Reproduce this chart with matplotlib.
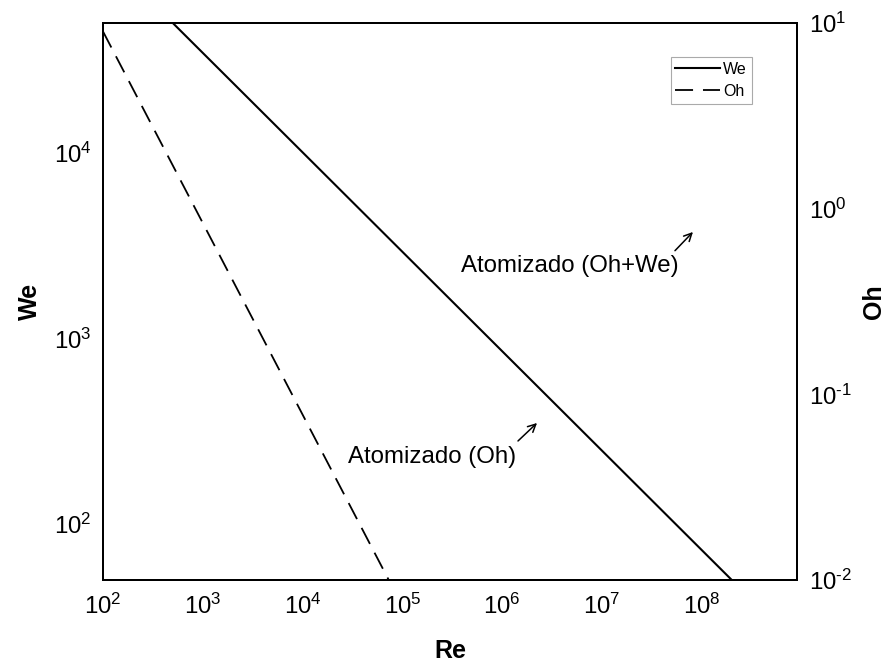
import numpy as np
import matplotlib
matplotlib.use("Agg")
import matplotlib.pyplot as plt
from matplotlib.ticker import FuncFormatter

plt.rcParams['font.family'] = ['Liberation Sans', 'DejaVu Sans']
plt.rcParams['mathtext.fontset'] = 'custom'
plt.rcParams['mathtext.rm'] = 'Liberation Sans'
plt.rcParams['axes.unicode_minus'] = False

# data (straight lines in log-log, end points)
re_we = [5.0e2, 2.0e8]
we_vals = [5.0e4, 50]
re_oh = [1.0e2, 7.3e4]
oh_vals = [9.0, 0.01]

x_ticks = [1e2, 1e3, 1e4, 1e5, 1e6, 1e7, 1e8]
we_ticks = [1e2, 1e3, 1e4]
oh_ticks = [1e-2, 1e-1, 1e0, 1e1]


def pow_label(v, pos):
    e = int(round(np.log10(v)))
    if e < 0:
        return r'$\mathdefault{10^{\text{-}%d}}$' % (-e)
    return r'$\mathdefault{10^{%d}}$' % e


fig = plt.figure(figsize=(8.88, 6.64), dpi=100)
ax = fig.add_axes([0.116, 0.1265, 0.7815, 0.8389])
ax2 = ax.twinx()

l1, = ax.plot(re_we, we_vals, color='black', lw=1.5, label='We')
l2, = ax2.plot(re_oh, oh_vals, color='black', lw=1.3, dashes=(10, 5.5), label='Oh')

ax.set_xscale('log')
ax.set_yscale('log')
ax2.set_yscale('log')
ax.set_xlim(1e2, 9e8)
ax.set_ylim(50, 5e4)
ax2.set_ylim(1e-2, 1e1)
ax.set_xticks(x_ticks)
ax.set_yticks(we_ticks)
ax2.set_yticks(oh_ticks)
ax.xaxis.set_major_formatter(FuncFormatter(pow_label))
ax.yaxis.set_major_formatter(FuncFormatter(pow_label))
ax2.yaxis.set_major_formatter(FuncFormatter(pow_label))

for a in (ax, ax2):
    a.tick_params(which='both', length=0, labelsize=17.3)
    a.minorticks_off()
    for s in a.spines.values():
        s.set_linewidth(1.4)
ax.tick_params(axis='x', pad=10)
ax.tick_params(axis='y', pad=8)
ax2.tick_params(axis='y', pad=9)

ax.set_xlabel('Re', fontsize=18, fontweight='bold', labelpad=14)
ax.set_ylabel('We', fontsize=18, fontweight='bold', labelpad=9)
ax2.set_ylabel('Oh', fontsize=18, fontweight='bold', labelpad=7)

# annotations
ax.text(0.5154, 0.5535, 'Atomizado (Oh+We)', transform=ax.transAxes,
        fontsize=17.3, va='baseline', ha='left')
ax.annotate('', xy=(0.8501, 0.6248), xytext=(0.8242, 0.5912),
            xycoords='axes fraction', textcoords='axes fraction',
            arrowprops=dict(arrowstyle='->', lw=1.1, mutation_scale=14,
                            shrinkA=0, shrinkB=0))
ax.text(0.353, 0.210, 'Atomizado (Oh)', transform=ax.transAxes,
        fontsize=17.3, va='baseline', ha='left')
ax.annotate('', xy=(0.6254, 0.2819), xytext=(0.598, 0.2496),
            xycoords='axes fraction', textcoords='axes fraction',
            arrowprops=dict(arrowstyle='->', lw=1.1, mutation_scale=14,
                            shrinkA=0, shrinkB=0))

leg = ax2.legend(handles=[l1, l2], loc='upper right',
                 bbox_to_anchor=(0.935, 0.939), fontsize=11.5,
                 handlelength=2.8, handletextpad=0.2, borderpad=0.3,
                 labelspacing=0.45, fancybox=False, framealpha=1,
                 borderaxespad=0)
leg.get_frame().set_edgecolor('#aaaaaa')
leg.get_frame().set_linewidth(0.8)

fig.savefig('out.png', dpi=100)
